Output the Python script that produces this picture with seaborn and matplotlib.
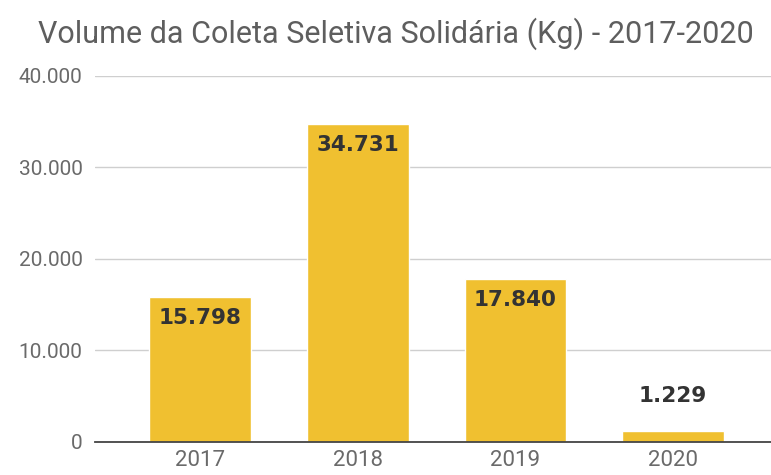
import matplotlib
matplotlib.use("Agg")
import matplotlib.pyplot as plt
import seaborn as sns
import pandas as pd

years = ["2017", "2018", "2019", "2020"]
volumes = [15798, 34731, 17840, 1229]
value_labels = ["15.798", "34.731", "17.840", "1.229"]
y_ticks = [0, 10000, 20000, 30000, 40000]
y_tick_labels = ["0", "10.000", "20.000", "30.000", "40.000"]
title = "Volume da Coleta Seletiva Solidária (Kg) - 2017-2020"

sns.set_theme(style="white")
plt.rcParams["font.family"] = ["Roboto", "DejaVu Sans"]

df = pd.DataFrame({"ano": years, "kg": volumes})

fig = plt.figure(figsize=(7.71, 4.75), dpi=100)
ax = fig.add_axes([0.1232, 0.0695, 0.8768, 0.7705])
sns.barplot(data=df, x="ano", y="kg", color="#F0C030", saturation=1, width=0.645, ax=ax)

ax.set_ylim(0, 40000)
ax.set_xlim(-0.667, 3.622)
ax.set_yticks(y_ticks)
ax.set_yticklabels(y_tick_labels)
ax.yaxis.grid(True, color="#cfcfcf", linewidth=1)
ax.set_axisbelow(True)
for s in ["top", "right", "left"]:
    ax.spines[s].set_visible(False)
ax.spines["bottom"].set_color("#444444")
ax.spines["bottom"].set_linewidth(1.3)
ax.set_xlabel("")
ax.set_ylabel("")
ax.tick_params(axis="y", length=0, pad=9, labelsize=15, labelcolor="#6a6a6a")
ax.tick_params(axis="x", length=0, pad=6, labelsize=16, labelcolor="#6a6a6a")

for i, (v, lab) in enumerate(zip(volumes, value_labels)):
    off = -21 if v > 5000 else 35
    ax.annotate(lab, (i, v), xytext=(0, off), textcoords="offset pixels",
                ha="center", va="center", fontsize=15.5, fontweight="bold",
                color="#333333", family="DejaVu Sans")

fig.text(0.513, 0.93, title, ha="center", va="center", fontsize=22, color="#5e5e5e")

fig.savefig("out.png", dpi=100)
